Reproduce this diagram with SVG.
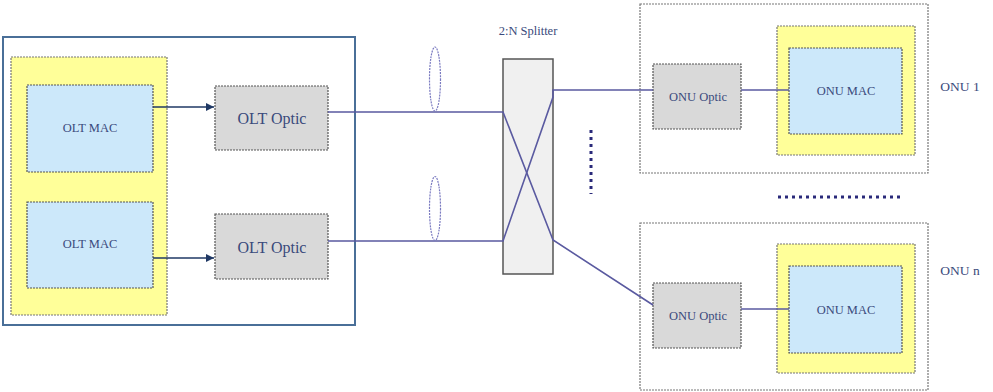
<svg xmlns="http://www.w3.org/2000/svg" width="993" height="392" viewBox="0 0 993 392">
<style>
.txt{font-family:"Liberation Serif","Times New Roman",serif;fill:#3a4a7c;text-anchor:middle;dominant-baseline:central}
.yel{fill:#ffff99;stroke:#777;stroke-width:1.2;stroke-dasharray:2 1}
.blu{fill:#cce8fa;stroke:#555;stroke-width:1.2;stroke-dasharray:2 1}
.gry{fill:#d9d9d9;stroke:#555;stroke-width:1.2;stroke-dasharray:2 1}
.onu{fill:#fff;stroke:#777;stroke-width:1.2;stroke-dasharray:2 1}
.fib{stroke:#5a5aa0;stroke-width:1.6;fill:none}
.arr{stroke:#1f3864;stroke-width:1.6;fill:none;marker-end:url(#ah)}
</style>
<defs>
<marker id="ah" viewBox="0 0 10 10" refX="10" refY="5" markerWidth="8" markerHeight="8" markerUnits="userSpaceOnUse" orient="auto">
<path d="M0,0 L10,5 L0,10 z" fill="#1f3864"/>
</marker>
</defs>
<rect width="993" height="392" fill="#fff"/>
<g id="olt">
<rect x="3" y="37" width="352" height="288" fill="#fff" stroke="#4a6f98" stroke-width="2"/>
<rect class="yel" x="11" y="57" width="156" height="258"/>
</g>
<g id="olt-mac-1">
<rect class="blu" x="27" y="85" width="126" height="87"/>
<text class="txt" x="90" y="128" font-size="12.5">OLT MAC</text>
</g>
<g id="olt-mac-2">
<rect class="blu" x="27" y="202" width="126" height="86"/>
<text class="txt" x="90" y="244" font-size="12.5">OLT MAC</text>
</g>
<g id="olt-optic-1">
<rect class="gry" x="215" y="86" width="113" height="64"/>
<text class="txt" x="272" y="118" font-size="16">OLT Optic</text>
</g>
<g id="olt-optic-2">
<rect class="gry" x="215" y="214" width="113" height="65"/>
<text class="txt" x="272" y="247" font-size="16">OLT Optic</text>
</g>
<g id="splitter">
<rect x="503" y="59" width="50" height="215" fill="#f0f0f0" stroke="#555" stroke-width="1.5"/>
<text class="txt" x="528" y="31" font-size="12.5">2:N Splitter</text>
</g>
<g id="onu-1">
<rect class="onu" x="640" y="4" width="288" height="169"/>
<rect class="yel" x="777" y="26" width="138" height="129"/>
<rect class="blu" x="789" y="48" width="113" height="86"/>
<text class="txt" x="846" y="91" font-size="12.5">ONU MAC</text>
<rect class="gry" x="653" y="64" width="88" height="65"/>
<text class="txt" x="698" y="97" font-size="12.5">ONU Optic</text>
<text class="txt" x="960" y="86" font-size="13.5">ONU 1</text>
</g>
<g id="onu-n">
<rect class="onu" x="640" y="223" width="288" height="167"/>
<rect class="yel" x="777" y="244" width="138" height="129"/>
<rect class="blu" x="789" y="266" width="113" height="87"/>
<text class="txt" x="846" y="310" font-size="12.5">ONU MAC</text>
<rect class="gry" x="653" y="283" width="88" height="65"/>
<text class="txt" x="698" y="316" font-size="12.5">ONU Optic</text>
<text class="txt" x="960" y="270" font-size="13.5">ONU n</text>
</g>
<g id="connectors">
<line class="arr" x1="153" y1="107" x2="214" y2="107"/>
<line class="arr" x1="153" y1="258" x2="214" y2="258"/>
<polyline class="fib" points="328,112 503,112 553,240 653,305"/>
<polyline class="fib" points="328,241 503,241 553,97 553,90 653,90"/>
<line class="fib" x1="741" y1="90" x2="789" y2="90"/>
<line class="fib" x1="741" y1="309" x2="789" y2="309"/>
<ellipse cx="435" cy="79" rx="5.5" ry="32" fill="none" stroke="#7a7ac0" stroke-width="1.2" stroke-dasharray="2 1"/>
<ellipse cx="435" cy="208.5" rx="5.5" ry="32" fill="none" stroke="#7a7ac0" stroke-width="1.2" stroke-dasharray="2 1"/>
<line x1="591" y1="130" x2="591" y2="194" stroke="#2a2a7a" stroke-width="3" stroke-dasharray="3 4"/>
<line x1="778" y1="197" x2="904" y2="197" stroke="#2a2a7a" stroke-width="3" stroke-dasharray="3 4"/>
</g>
</svg>
